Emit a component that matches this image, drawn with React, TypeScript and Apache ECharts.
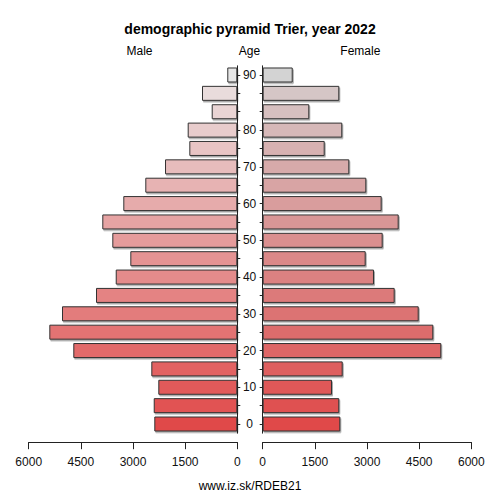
import React, { useEffect, useRef } from "react";
import * as echarts from "echarts";

const ageGroups = ["0", "5", "10", "15", "20", "25", "30", "35", "40", "45", "50", "55", "60", "65", "70", "75", "80", "85", "90", "95"];
const ageTickLabels = ["0", "", "10", "", "20", "", "30", "", "40", "", "50", "", "60", "", "70", "", "80", "", "", "90"];
const male = [2387, 2404, 2272, 2473, 4717, 5407, 5042, 4064, 3497, 3077, 3595, 3883, 3279, 2646, 2079, 1380, 1427, 736, 1015, 288];
const female = [2232, 2203, 1993, 2301, 5137, 4907, 4487, 3796, 3201, 2962, 3451, 3911, 3422, 2980, 2491, 1783, 2289, 1340, 2203, 863];
const valueTicks = [0, 1500, 3000, 4500, 6000];

const FONT = "'Liberation Sans', Arial, Helvetica, sans-serif";

function hexToRgb(h: string): number[] {
  const n = parseInt(h.slice(1), 16);
  return [(n >> 16) & 255, (n >> 8) & 255, n & 255];
}
function mix(a: string, b: string, t: number): string {
  const A = hexToRgb(a);
  const B = hexToRgb(b);
  const c = A.map((v, i) => Math.round(v + (B[i] - v) * t));
  return `rgb(${c[0]},${c[1]},${c[2]})`;
}
function colors(start: string, end: string, top: string, n: number): string[] {
  const out: string[] = [];
  for (let i = 0; i < n; i++) {
    out.push(i === n - 1 ? top : mix(start, end, i / (n - 2)));
  }
  return out;
}

const maleColors = colors("#e04a4a", "#e9dcdc", "#e6e6e6", ageGroups.length);
const femaleColors = colors("#e04a4a", "#d5c6c6", "#d3d3d3", ageGroups.length);

export default function App() {
  const ref = useRef<HTMLDivElement>(null);
  useEffect(() => {
    if (!ref.current) return;
    const chart = echarts.init(ref.current, undefined, { renderer: "svg" });
    const barStyle = {
      borderColor: "#333",
      borderWidth: 1,
      shadowColor: "rgba(0,0,0,0.35)",
      shadowOffsetX: 1,
      shadowOffsetY: 1.5,
      shadowBlur: 0,
    };
    const xAxisCommon = {
      type: "value" as const,
      min: 0,
      max: 6000,
      interval: 1500,
      offset: 9,
      splitLine: { show: false },
      axisLine: { show: true, lineStyle: { color: "#222", width: 1 } },
      axisTick: { show: true, length: 7, lineStyle: { color: "#222" } },
      axisLabel: {
        show: true,
        margin: 14,
        fontSize: 12,
        color: "#111",
        fontFamily: FONT,
        formatter: (v: number) => (valueTicks.includes(v) ? String(v) : ""),
      },
    };
    const yAxisCommon = {
      type: "category" as const,
      data: ageGroups,
      boundaryGap: true,
      axisLine: { show: true, lineStyle: { color: "#222", width: 1 } },
      axisTick: { show: true, length: 3, alignWithLabel: true, interval: 0, lineStyle: { color: "#222" } },
      splitLine: { show: false },
    };
    chart.setOption({
      animation: false,
      backgroundColor: "#fff",
      grid: [
        { left: 28.7, width: 208.6, top: 65.8, height: 367.4 },
        { left: 262.7, width: 208.6, top: 65.8, height: 367.4 },
      ],
      xAxis: [
        { ...xAxisCommon, gridIndex: 0, inverse: true },
        { ...xAxisCommon, gridIndex: 1 },
      ],
      yAxis: [
        {
          ...yAxisCommon,
          gridIndex: 0,
          position: "right",
          axisLabel: {
            show: true,
            interval: 0,
            margin: 12.3,
            align: "center",
            fontSize: 12,
            color: "#111",
            fontFamily: FONT,
            formatter: (_v: string, i: number) => ageTickLabels[i],
          },
        },
        {
          ...yAxisCommon,
          gridIndex: 1,
          position: "left",
          axisLabel: { show: false },
        },
      ],
      series: [
        {
          type: "bar",
          name: "Male",
          xAxisIndex: 0,
          yAxisIndex: 0,
          barWidth: 15,
          data: male.map((v, i) => ({ value: v, itemStyle: { ...barStyle, color: maleColors[i] } })),
        },
        {
          type: "bar",
          name: "Female",
          xAxisIndex: 1,
          yAxisIndex: 1,
          barWidth: 15,
          data: female.map((v, i) => ({ value: v, itemStyle: { ...barStyle, color: femaleColors[i] } })),
        },
      ],
      graphic: [
        {
          type: "text",
          x: 250,
          y: 29,
          style: {
            text: "demographic pyramid Trier, year 2022",
            fontSize: 14,
            fontWeight: "bold",
            fontFamily: FONT,
            fill: "#000",
            align: "center",
            verticalAlign: "middle",
          },
        },
        {
          type: "text",
          x: 139.5,
          y: 51,
          style: { text: "Male", fontSize: 12, fontFamily: FONT, fill: "#000", align: "center", verticalAlign: "middle" },
        },
        {
          type: "text",
          x: 249.5,
          y: 51,
          style: { text: "Age", fontSize: 12, fontFamily: FONT, fill: "#000", align: "center", verticalAlign: "middle" },
        },
        {
          type: "text",
          x: 360.3,
          y: 51,
          style: { text: "Female", fontSize: 12, fontFamily: FONT, fill: "#000", align: "center", verticalAlign: "middle" },
        },
        {
          type: "text",
          x: 250,
          y: 486,
          style: { text: "www.iz.sk/RDEB21", fontSize: 12, fontFamily: FONT, fill: "#000", align: "center", verticalAlign: "middle" },
        },
      ],
    });
    return () => chart.dispose();
  }, []);
  return (
    <div
      ref={ref}
      style={{ position: "fixed", left: 0, top: 0, width: 500, height: 500, background: "#fff" }}
    />
  );
}
